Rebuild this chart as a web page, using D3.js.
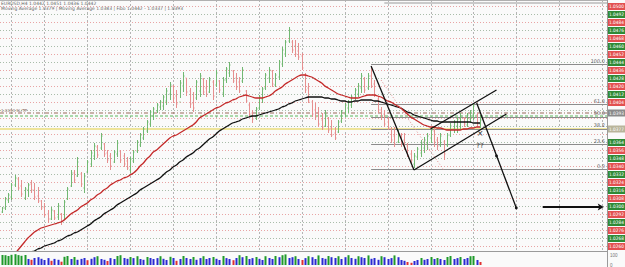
<!DOCTYPE html>
<html><head><meta charset="utf-8">
<script src="https://cdn.jsdelivr.net/npm/d3@7"></script>
<style>body{margin:0;background:#fafafa}svg{display:block}</style>
</head><body>
<script>
// All prices are in pips above 1.0000 (price = 1 + pips/10000)
const highs = [299,309,313,323,331,329,326,319,323,326,
323,319,306,303,296,299,296,303,293,306,
319,336,336,349,334,333,346,356,363,361,
373,363,356,353,356,366,356,353,349,349,
356,366,373,379,386,396,399,403,406,411,
418,424,421,416,426,434,428,418,414,426,
433,428,426,429,426,436,426,429,439,444,
436,433,429,439,416,403,396,399,411,419,
433,439,436,433,446,459,466,479,466,466,
463,453,433,423,406,403,399,393,396,389,
386,379,386,396,403,406,411,418,423,433,
429,433,440,426,409,399,396,389,379,379,
376,373,373,363,356,353,359,366,369,373,
379,379,369,373,366,373,383,386,389,393,
389,393,396,403,393,391];
const lows = [293,296,303,306,319,316,309,306,309,313,
306,303,296,289,283,286,286,286,281,286,
306,319,323,329,319,313,333,339,346,348,
356,349,343,336,343,349,343,339,336,333,
343,353,359,366,373,379,386,393,396,396,
401,406,403,398,408,414,410,398,394,406,
409,411,409,413,406,419,413,409,423,429,
423,416,413,423,403,389,383,386,396,403,
416,423,419,419,426,439,449,463,453,449,
446,436,413,403,389,386,379,376,379,373,
369,366,373,383,389,393,398,406,409,413,
413,416,418,409,393,386,379,376,363,359,
363,359,356,349,343,338,346,349,353,356,
363,359,356,359,346,359,369,373,373,376,
379,379,383,386,379,378];
const opens = [294,298,306,309,321,327,320,308,316,322,
316,310,305,299,292,287,295,289,292,286,
307,320,333,330,332,318,334,342,350,359,
358,362,353,350,344,352,355,350,345,336,
345,355,361,368,375,382,390,395,399,400,
405,412,420,410,404,420,428,415,403,408,
415,427,418,414,424,421,425,413,426,433,
435,428,424,425,415,401,393,388,398,407,
418,428,435,421,429,442,452,465,464,460,
455,450,431,418,404,396,393,386,380,388,
378,373,374,385,392,398,401,408,412,418,
427,418,430,422,407,396,392,384,377,370,
364,371,366,360,352,342,349,353,358,363,
368,375,366,361,364,361,371,377,380,384,
388,381,387,392,391,382];
const closes = [298,307,311,321,328,318,312,317,321,316,
309,305,298,291,287,296,288,300,284,304,
317,333,326,344,322,330,344,353,360,351,
370,352,346,340,354,363,346,342,338,347,
354,364,371,377,384,394,397,401,404,409,
415,421,408,402,423,430,414,402,398,424,
430,414,412,426,410,433,416,426,437,441,
425,419,415,436,405,392,387,397,409,417,
431,436,422,431,444,456,464,476,456,452,
449,438,416,405,392,389,382,379,392,376,
371,368,384,394,401,404,409,416,420,430,
416,430,420,411,396,389,382,378,366,362,
372,362,358,351,346,350,357,363,366,370,
376,364,360,370,352,371,380,384,387,390,
382,391,394,400,382,386];
const maFast = [231,238,244,249,252,256,260,264,268,271,
274,276,278,279,280,281,282,283,284,286,
289,292,294,296,299,301,303,306,308,311,
313,316,318,321,323,325,326,328,329,331,
333,336,340,343,347,350,354,356,359,362,
365,368,370,371,373,375,377,379,381,384,
388,390,392,394,396,398,399,401,403,404,
406,407,409,410,411,410,409,408,408,408,
409,410,412,415,417,419,422,424,426,428,
430,431,431,430,429,427,425,423,420,418,
416,414,412,411,410,409,408,408,408,409,
410,411,411,411,410,409,407,405,404,402,
400,398,395,392,389,387,385,383,381,380,
379,379,378,378,377,376,376,376,376,376,
377,377,378,378,379,379];
const maSlow = [238,240,242,244,246,248,249,251,252,254,
255,257,258,260,261,262,263,265,266,268,
270,271,273,274,276,278,280,282,285,287,
289,292,294,296,298,301,303,305,307,309,
311,313,316,318,320,322,324,326,328,331,
334,336,339,341,344,346,349,351,353,356,
358,361,364,367,369,372,375,377,379,381,
383,384,385,387,388,389,390,390,391,392,
393,394,395,396,397,399,400,402,403,405,
406,407,408,409,409,409,409,409,408,408,
407,407,406,405,405,404,404,405,405,406,
406,406,406,405,405,404,403,402,401,400,
399,398,396,394,393,391,390,389,388,387,
386,385,385,384,384,384,384,384,384,384,
384,384,384,383,383,383];
const volumes = [1000,980,900,1020,1080,990,920,1000,
600,520,700,780,620,500,690,420,610,520,330,
820,900,600,800,520,610,
700,480,620,780,880,600,520,400,690,600,
900,980,700,620,800,690,880,600,520,800,700,
600,690,880,620,500,820,700,420,600,900,700,600,800,520,690,
880,600,700,800,620,500,900,690,600,480,700,980,780,900,600,690,800,620,500,880,
700,600,900,780,980,1060,700,780,880,600,500,690,880,780,600,960,700,620,900,780,
700,880,600,780,980,700,620,880,780,700,960,620,700,520,880,780,600,690,960,780,
500,420,300,220,400,500,700,520,600,800,600,700,600,500,800,900,600,690,800,600,700,880,900,500,300];
const volKinds = ("gggggggg"+"brbbbbbrbbr"+"ggbgbb"+"brbbgbbrbb"+"ggbbgbgbbgb"+
  "bbgbbgbrbgbbgbb"+"gbbgbbgbbrbgbgbbgbbg"+"bbgbggbbgbrbgbbgbbgb"+
  "bgbbgbbgbbgbbbgbbbgb"+"bbrrbbgbbgbgbbggbbgbbggbr").split("");
// price grid / axis tick levels (pips)
const gridLevels = [500,492,484,476,468,460,452,444,436,428,420,412,404,396,388,380,
  372,364,356,348,340,332,324,316,308,300,292,284,276,268,260];
const timeGrid = [3,13,26,39,52,65,78,91,104,117,130,143,156,169,182];
// Fibonacci retracement
const fibHigh = 442, fibLow = 337;
const fibPcts = [0, 23.6, 38.2, 50, 61.8, 100];
const fibLabels = ["0.0","23.6","38.2","50.0","61.8","100.0"];
// horizontal level lines
const levelBrown = 393, levelGreen = 390, levelYellow = 377, levelTop = 503;
// trend lines [bar index, pips]
const trendLines = [
  [[112,440],[125,336]],
  [[125,336],[153,392]],
  [[130,377],[150,416]],
  [[144,403],[156,298]]
];
const dottedLine = [[115,426],[134,336]];
const arrowLine = [[164,299],[182.5,299]];
const dots = [[150,350],[156,298]];
const header1 = "EURUSD,H4  1.0442 1.0451 1.0436 1.0442";
const header2 = "Moving Average 1.0379  |  Moving Average 1.0383  |  Fibo 1.0442 - 1.0337  |  1.0393";

const W=625,H=267, plotR=607, plotB=251, volBase=265;
const svg=d3.select('body').append('svg').attr('width',W).attr('height',H)
  .style('font-family','DejaVu Sans, sans-serif');
svg.append('rect').attr('width',W).attr('height',H).attr('fill','#fafafa');

const x=d3.scaleLinear().domain([0,184]).range([1.5,1.5+3.3*184]);
const y=d3.scaleLinear().domain([500,260]).range([6,246]);
const yv=d3.scaleLinear().domain([0,1100]).range([volBase,volBase-11]);
const fmt=p=>(1+p/10000).toFixed(4);

svg.append('defs').append('clipPath').attr('id','clip')
  .append('rect').attr('x',0).attr('y',0).attr('width',plotR).attr('height',plotB);
const g=svg.append('g').attr('clip-path','url(#clip)');

// grid
g.selectAll('.hg').data(gridLevels).join('line')
  .attr('x1',0).attr('x2',plotR).attr('y1',d=>Math.round(y(d))+0.5).attr('y2',d=>Math.round(y(d))+0.5)
  .attr('stroke',(d,i)=>i%2?'#a9bca9':'#e8a4a4').attr('stroke-dasharray','1,2').attr('stroke-width',1);
g.selectAll('.vg').data(timeGrid).join('line')
  .attr('x1',d=>Math.round(x(d))+0.5).attr('x2',d=>Math.round(x(d))+0.5).attr('y1',0).attr('y2',plotB)
  .attr('stroke','#b4b4b4').attr('stroke-dasharray','2,2');

// horizontal level lines
g.append('line').attr('x1',0).attr('x2',plotR).attr('y1',y(levelYellow)).attr('y2',y(levelYellow))
  .attr('stroke','#eee49a').attr('stroke-width',2);
g.append('line').attr('x1',0).attr('x2',plotR).attr('y1',y(levelBrown)).attr('y2',y(levelBrown))
  .attr('stroke','#9a6a5a').attr('stroke-dasharray','4,2,1,2');
g.append('line').attr('x1',0).attr('x2',plotR).attr('y1',y(levelGreen)).attr('y2',y(levelGreen))
  .attr('stroke','#5cb85c').attr('stroke-dasharray','3,2');
g.append('line').attr('x1',x(116)).attr('x2',plotR).attr('y1',y(levelTop)).attr('y2',y(levelTop))
  .attr('stroke','#9a9a9a');

// fib levels
const fibData=fibPcts.map((p,i)=>({v:fibLow+p/100*(fibHigh-fibLow),t:fibLabels[i]}));
g.selectAll('.fib').data(fibData).join('line')
  .attr('x1',x(112)).attr('x2',plotR).attr('y1',d=>Math.round(y(d.v))+0.5).attr('y2',d=>Math.round(y(d.v))+0.5)
  .attr('stroke','#8c8c8c').attr('stroke-width',1);
g.selectAll('.fibt').data(fibData).join('text')
  .attr('x',plotR-2).attr('y',d=>y(d.v)-1.5).attr('text-anchor','end')
  .attr('font-size',5).attr('fill','#666').text(d=>d.t);

// OHLC bars
const idx=d3.range(highs.length);
const bars=g.append('g');
idx.forEach(i=>{
  const c=closes[i]>=opens[i]?'#72b872':'#e68f8f';
  const xi=Math.round(x(i))+0.5;
  bars.append('line').attr('x1',xi).attr('x2',xi).attr('y1',y(highs[i])).attr('y2',y(lows[i])).attr('stroke',c);
  bars.append('line').attr('x1',xi-1).attr('x2',xi).attr('y1',y(opens[i])).attr('y2',y(opens[i])).attr('stroke',c);
  bars.append('line').attr('x1',xi).attr('x2',xi+1).attr('y1',y(closes[i])).attr('y2',y(closes[i])).attr('stroke',c);
});

// moving averages
const line=d3.line().x((d,i)=>x(i)).y(d=>y(d)).curve(d3.curveMonotoneX);
g.append('path').datum(maSlow).attr('d',line).attr('fill','none').attr('stroke','#111').attr('stroke-width',1.3);
g.append('path').datum(maFast).attr('d',line).attr('fill','none').attr('stroke','#c42a2a').attr('stroke-width',1.3);

// trend lines
g.selectAll('.tl').data(trendLines).join('line')
  .attr('x1',d=>x(d[0][0])).attr('y1',d=>y(d[0][1])).attr('x2',d=>x(d[1][0])).attr('y2',d=>y(d[1][1]))
  .attr('stroke','#111').attr('stroke-width',1.3);
g.append('line').attr('x1',x(dottedLine[0][0])).attr('y1',y(dottedLine[0][1]))
  .attr('x2',x(dottedLine[1][0])).attr('y2',y(dottedLine[1][1]))
  .attr('stroke','#e08a8a').attr('stroke-dasharray','1,2');
g.selectAll('.dot').data(dots).join('circle').attr('cx',d=>x(d[0])).attr('cy',d=>y(d[1])).attr('r',1.4).attr('fill','#111');
// arrow
const ay=y(arrowLine[0][1]);
g.append('line').attr('x1',x(arrowLine[0][0])).attr('x2',x(arrowLine[1][0])-3).attr('y1',ay).attr('y2',ay)
  .attr('stroke','#111').attr('stroke-width',2);
const ax=x(arrowLine[1][0]);
g.append('path').attr('d',`M${ax},${ay}L${ax-6},${ay-3.5}L${ax-4.5},${ay}L${ax-6},${ay+3.5}Z`).attr('fill','#111');
// annotations
g.append('text').attr('x',x(145)).attr('y',y(370)).attr('text-anchor','middle').attr('font-size',8).attr('fill','#333').text('×');
g.append('text').attr('x',x(145)).attr('y',y(358)).attr('text-anchor','middle').attr('font-size',7).attr('fill','#333').text('??');

// header texts
svg.append('text').attr('x',1).attr('y',5).attr('font-size',4.5).attr('fill','#666').text(header1);
svg.append('text').attr('x',1).attr('y',10).attr('font-size',4.5).attr('fill','#666').text(header2);
svg.append('text').attr('x',1).attr('y',y(levelBrown)-1).attr('font-size',4).attr('fill','#8a6a5a').text('1.0393 SL/TP');

// frames
svg.append('line').attr('x1',plotR+0.5).attr('x2',plotR+0.5).attr('y1',0).attr('y2',H).attr('stroke','#9a9a9a');
svg.append('line').attr('x1',0).attr('x2',plotR).attr('y1',plotB+0.5).attr('y2',plotB+0.5).attr('stroke','#9a9a9a');
svg.append('line').attr('x1',0).attr('x2',plotR).attr('y1',0.5).attr('y2',0.5).attr('stroke','#b0b0b0');

// right price axis (grid labels that would sit under the two marker labels are left out)
const special=[[levelBrown,'#8a8a8a'],[levelYellow,'#b8b49a']];
const axisLevels=gridLevels.filter(v=>special.every(([s])=>Math.abs(y(v)-y(s))>=6.5));
const axis=d3.axisRight(y).tickValues(axisLevels).tickSize(0).tickPadding(1).tickFormat(fmt);
const ag=svg.append('g').attr('transform',`translate(${plotR+1},0)`).call(axis);
ag.select('.domain').remove();
ag.attr('font-size',4.6).attr('font-family','DejaVu Sans, sans-serif');
ag.selectAll('.tick').each(function(d){
  const t=d3.select(this);
  const k=gridLevels.indexOf(d);
  t.insert('rect','text').attr('x',0).attr('y',-3.5).attr('width',17).attr('height',7)
    .attr('fill',k%2?'#2f8a36':'#e25050');
  t.select('text').attr('fill','#fff').attr('textLength',15).attr('lengthAdjust','spacingAndGlyphs');
});
special.forEach(([v,c])=>{
  const sg=svg.append('g').attr('transform',`translate(${plotR+1},${y(v)})`);
  sg.append('rect').attr('x',0).attr('y',-3.5).attr('width',17).attr('height',7).attr('fill',c);
  sg.append('text').attr('x',1).attr('y',1.7).attr('font-size',4.6).attr('fill','#fff')
    .attr('textLength',15).attr('lengthAdjust','spacingAndGlyphs').text(fmt(v));
});

// volume pane
svg.selectAll('.vol').data(volumes).join('rect')
  .attr('x',(d,i)=>Math.round(x(i))-0.5).attr('width',2)
  .attr('y',d=>yv(d)).attr('height',d=>volBase-yv(d))
  .attr('fill',(d,i)=>({g:'#1f9a2a',b:'#2a2ad2',r:'#e03030'})[volKinds[i]]);
const vAxis=d3.axisRight(yv).tickValues([1000,0]).tickSize(0).tickPadding(2).tickFormat((d,i)=>i?'0':'100');
const vg=svg.append('g').attr('transform',`translate(${plotR+1},0)`).call(vAxis);
vg.select('.domain').remove();
vg.attr('font-size',4.5).selectAll('text').attr('fill','#777');
</script>
</body></html>
